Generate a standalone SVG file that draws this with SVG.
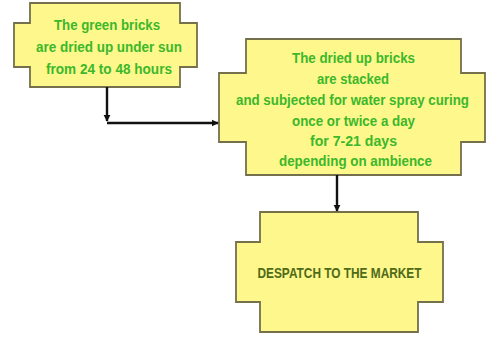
<svg xmlns="http://www.w3.org/2000/svg" width="487" height="337" viewBox="0 0 487 337">
<style>
.box{fill:#fdf78c;stroke:#74704c;stroke-width:1.8}
.t{font-family:"Liberation Sans",Arial,sans-serif;font-weight:bold;font-size:14px;fill:#3cb82a;text-anchor:middle}
.t3{font-family:"Liberation Sans",Arial,sans-serif;font-weight:bold;font-size:15px;fill:#4f6a18;text-anchor:middle}
.c{fill:none;stroke:#111;stroke-width:2.4}
</style>
<defs>
<marker id="ah" viewBox="0 0 10 10" refX="9" refY="5" markerWidth="3" markerHeight="3" orient="auto" markerUnits="strokeWidth">
<path d="M0,0 L10,5 L0,10 Z" fill="#111"/>
</marker>
</defs>
<rect width="487" height="337" fill="#ffffff"/>
<g id="node1">
<path class="box" d="M30,3 H180 V23 H197 V67 H180 V87 H30 V67 H14 V23 H30 Z"/>
<text class="t" x="107" y="30" textLength="106" lengthAdjust="spacingAndGlyphs">The green bricks</text>
<text class="t" x="109" y="52" textLength="146" lengthAdjust="spacingAndGlyphs">are dried up under sun</text>
<text class="t" x="109" y="73.5" textLength="126" lengthAdjust="spacingAndGlyphs">from 24 to 48 hours</text>
</g>
<g id="node2">
<path class="box" d="M246,39 H461 V73 H485 V142 H461 V175 H246 V142 H219 V73 H246 Z"/>
<text class="t" x="353.5" y="62.5" textLength="123" lengthAdjust="spacingAndGlyphs">The dried up bricks</text>
<text class="t" x="353" y="83.5" textLength="72" lengthAdjust="spacingAndGlyphs">are stacked</text>
<text class="t" x="352.5" y="105" textLength="233" lengthAdjust="spacingAndGlyphs">and subjected for water spray curing</text>
<text class="t" x="353.5" y="125.5" textLength="123" lengthAdjust="spacingAndGlyphs">once or twice a day</text>
<text class="t" x="353.5" y="146" textLength="87" lengthAdjust="spacingAndGlyphs">for 7-21 days</text>
<text class="t" x="355.5" y="166" textLength="153" lengthAdjust="spacingAndGlyphs">depending on ambience</text>
</g>
<g id="node3">
<path class="box" d="M260,212 H418 V242 H443 V302 H418 V332 H260 V302 H236 V242 H260 Z"/>
<text class="t3" x="339.5" y="278" textLength="164" lengthAdjust="spacingAndGlyphs">DESPATCH TO THE MARKET</text>
</g>
<g id="connectors">
<path class="c" d="M107,87 V121" marker-end="url(#ah)"/>
<path class="c" d="M107,123 H218" marker-end="url(#ah)"/>
<path class="c" d="M337,175 V211" marker-end="url(#ah)"/>
</g>
</svg>
